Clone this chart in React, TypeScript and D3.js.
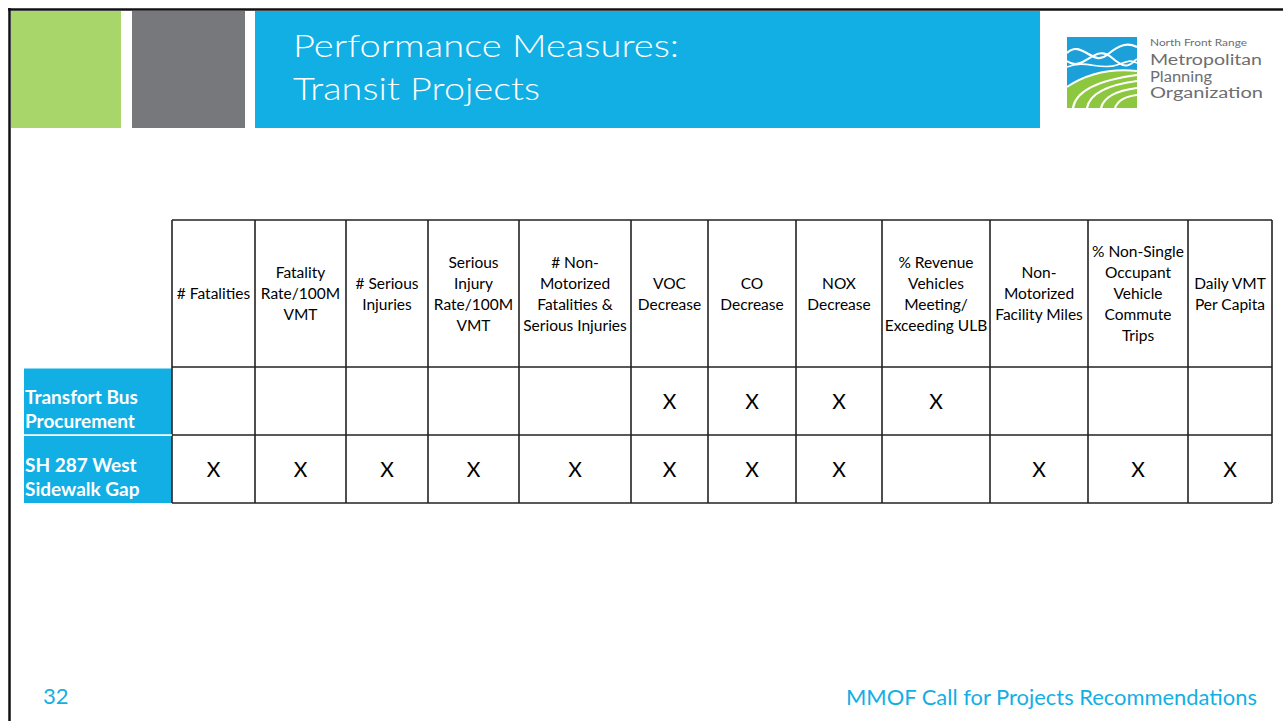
import React from "react";
import * as d3 from "d3";

// ---------- data ----------
const titleLines: string[] = ["Performance Measures:", "Transit Projects"];
const measureLabels: string[][] = [
  ["# Fatalities"],
  ["Fatality", "Rate/100M", "VMT"],
  ["# Serious", "Injuries"],
  ["Serious", "Injury", "Rate/100M", "VMT"],
  ["# Non-", "Motorized", "Fatalities &", "Serious Injuries"],
  ["VOC", "Decrease"],
  ["CO", "Decrease"],
  ["NOX", "Decrease"],
  ["% Revenue", "Vehicles", "Meeting/", "Exceeding ULB"],
  ["Non-", "Motorized", "Facility Miles"],
  ["% Non-Single", "Occupant", "Vehicle", "Commute", "Trips"],
  ["Daily VMT", "Per Capita"],
];
const projectLabels: string[][] = [
  ["Transfort Bus", "Procurement"],
  ["SH 287 West", "Sidewalk Gap"],
];
const transfortBusMarks: number[] = [0, 0, 0, 0, 0, 1, 1, 1, 1, 0, 0, 0];
const sh287WestMarks: number[] = [1, 1, 1, 1, 1, 1, 1, 1, 0, 1, 1, 1];
const slideNumber = "32";
const footerText = "MMOF Call for Projects Recommendations";
const logoLines: string[] = ["North Front Range", "Metropolitan", "Planning", "Organization"];

// ---------- layout ----------
const W = 1283;
const H = 721;
const BLUE = "#12afe4";
const GREEN = "#a8d66a";
const GRAY = "#77787b";
const FONT = "Lato, 'Open Sans', 'Noto Sans', sans-serif";

const colWidths = [83, 91, 82, 91, 112, 77, 88, 86, 108, 98, 100, 84];
const tableLeft = 172;
const headerTop = 220;
const headerBottom = 367;
const tableBottom = 503;
const labelLeft = 24;
const logoWidths = [97, 112, 62, 113];

export default function App() {
  const edges = [tableLeft, ...Array.from(d3.cumsum(colWidths), (c) => tableLeft + c)];
  const colIdx = d3.range(measureLabels.length);
  const xLeft = d3.scaleOrdinal<number, number>().domain(colIdx).range(edges.slice(0, -1));
  const xRight = d3.scaleOrdinal<number, number>().domain(colIdx).range(edges.slice(1));
  const xCenter = (i: number) => (xLeft(i) + xRight(i)) / 2;
  const tableRight = edges[edges.length - 1];

  const rowKeys = projectLabels.map((_, i) => i);
  const y = d3.scaleBand<number>().domain(rowKeys).range([headerBottom, tableBottom]).padding(0);
  const marks = [transfortBusMarks, sh287WestMarks];
  const headerCenter = (headerTop + headerBottom) / 2;
  const lineH = 21;

  return (
    <svg
      width={W}
      height={H}
      viewBox={`0 0 ${W} ${H}`}
      style={{ position: "absolute", left: 0, top: 0, background: "#fff" }}
      fontFamily={FONT}
    >
      <rect x={0} y={0} width={W} height={H} fill="#fff" />
      {/* slide frame */}
      <line x1={8} x2={W} y1={9.5} y2={9.5} stroke="#111" strokeWidth={2.5} />
      <line x1={9.5} x2={9.5} y1={8} y2={H} stroke="#111" strokeWidth={2.5} />

      {/* header blocks */}
      <rect x={11} y={11} width={110} height={117} fill={GREEN} />
      <rect x={132} y={11} width={113} height={117} fill={GRAY} />
      <rect x={255} y={11} width={785} height={117} fill={BLUE} />
      {titleLines.map((t, i) => (
        <text
          key={t}
          x={293}
          y={57 + i * 43}
          fill="#fff"
          fontSize={32}
          fontWeight={300}
          textLength={i === 0 ? 386 : 247}
          lengthAdjust="spacingAndGlyphs"
        >
          {t}
        </text>
      ))}

      {/* logo */}
      <g transform="translate(1067,37)">
        <defs>
          <clipPath id="logoClip">
            <rect x={0} y={0} width={70} height={71} />
          </clipPath>
        </defs>
        <g clipPath="url(#logoClip)">
          <rect x={0} y={0} width={70} height={71} fill="#1ba0da" />
          <path d="M0,16 C14,2 26,30 40,18 S62,6 70,10" fill="none" stroke="#fff" strokeWidth={2.2} />
          <path d="M0,24 C16,36 28,6 44,20 S62,28 70,22" fill="none" stroke="#fff" strokeWidth={2} />
          <path d="M0,30 C18,22 34,34 50,28 S64,24 70,26" fill="none" stroke="#fff" strokeWidth={1.6} />
          <path d="M0,71 L0,50 Q30,30 70,34 L70,71 Z" fill="#8dc63f" />
          <path d="M6,71 Q10,46 70,38" fill="none" stroke="#fff" strokeWidth={2.2} />
          <path d="M20,71 Q24,50 70,44" fill="none" stroke="#fff" strokeWidth={2.2} />
          <path d="M34,71 Q38,55 70,51" fill="none" stroke="#fff" strokeWidth={2.2} />
          <path d="M48,71 Q52,60 70,58" fill="none" stroke="#fff" strokeWidth={2.2} />
          <path d="M0,50 Q30,30 70,34" fill="none" stroke="#fff" strokeWidth={2} />
        </g>
        <text x={83} y={8.5} fontSize={9} fill="#6d6e70" textLength={logoWidths[0]} lengthAdjust="spacingAndGlyphs">
          {logoLines[0]}
        </text>
        {logoLines.slice(1).map((t, i) => (
          <text
            key={t}
            x={83}
            y={28 + i * 16.5}
            fontSize={15.5}
            fill="#6d6e70"
            textLength={logoWidths[i + 1]}
            lengthAdjust="spacingAndGlyphs"
          >
            {t}
          </text>
        ))}
      </g>

      {/* row label cells */}
      {projectLabels.map((lines, r) => (
        <g key={r}>
          <rect
            x={labelLeft}
            y={y(r)! + (r === 0 ? 1.5 : 1)}
            width={tableLeft - labelLeft}
            height={y.bandwidth() - (r === 0 ? 1.5 : 1)}
            fill={BLUE}
          />
          {lines.map((t, i) => (
            <text
              key={t}
              x={25}
              y={y(r)! + y.bandwidth() / 2 + 2.5 + i * 24}
              fill="#fff"
              fontSize={19}
              fontWeight={700}
            >
              {t}
            </text>
          ))}
        </g>
      ))}

      {/* header text */}
      {measureLabels.map((lines, c) => (
        <g key={c}>
          {lines.map((t, i) => (
            <text
              key={i}
              x={xCenter(c)}
              y={headerCenter + (i - (lines.length - 1) / 2) * lineH + 5.5}
              textAnchor="middle"
              fontSize={15.5}
              fill="#000"
            >
              {t}
            </text>
          ))}
        </g>
      ))}

      {/* X marks */}
      {marks.map((row, r) =>
        row.map((m, c) =>
          m ? (
            <text
              key={`${r}-${c}`}
              x={xCenter(c)}
              y={y(r)! + y.bandwidth() / 2 + 8}
              textAnchor="middle"
              fontSize={21}
              fill="#000"
            >
              X
            </text>
          ) : null
        )
      )}

      {/* grid lines */}
      <g stroke="#222" strokeWidth={1.6}>
        {[headerTop, headerBottom, ...rowKeys.map((r) => y(r)! + y.bandwidth())].map((yy, i) => (
          <line key={`h${i}`} x1={tableLeft} x2={tableRight} y1={yy} y2={yy} />
        ))}
        {edges.map((xx, i) => (
          <line key={`v${i}`} x1={xx} x2={xx} y1={headerTop} y2={tableBottom} />
        ))}
      </g>
      {/* separator between label cells */}
      <line x1={labelLeft} x2={tableLeft} y1={y(1)!} y2={y(1)!} stroke="#fff" strokeWidth={1.5} />

      {/* footer */}
      <text x={43} y={704} fontSize={22} fill={BLUE}>
        {slideNumber}
      </text>
      <text x={1257} y={705} fontSize={22} fill={BLUE} textAnchor="end" textLength={411} lengthAdjust="spacingAndGlyphs">
        {footerText}
      </text>
    </svg>
  );
}
